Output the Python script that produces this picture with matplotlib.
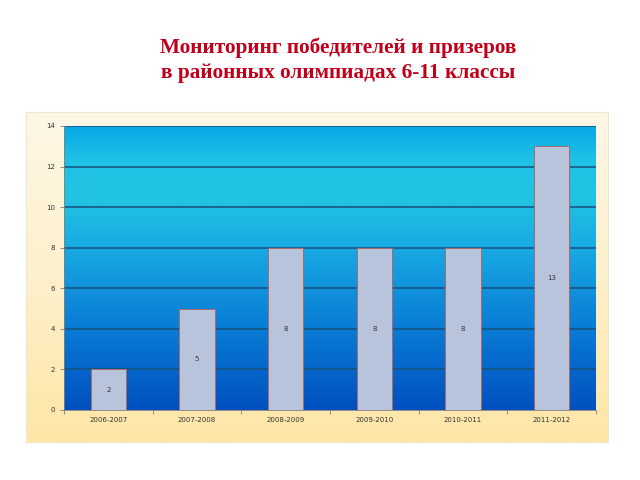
import numpy as np
import matplotlib.pyplot as plt
from matplotlib.colors import LinearSegmentedColormap

# data
years = ['2006-2007', '2007-2008', '2008-2009', '2009-2010', '2010-2011', '2011-2012']
winners = [2, 5, 8, 8, 8, 13]

title = 'Мониторинг победителей и призеров\nв районных олимпиадах 6-11 классы'

fig = plt.figure(figsize=(6.4, 4.8), dpi=100)
W, H = 640.0, 480.0

# outer chart area with cream -> light yellow gradient
bg = fig.add_axes([26/W, 1-442/H, 582/W, 330/H])
bg_cmap = LinearSegmentedColormap.from_list('bg', ['#fde6a6', '#fdf0cc', '#fdf7e6'])
bg.imshow(np.linspace(0, 1, 256).reshape(-1, 1), aspect='auto', cmap=bg_cmap,
          origin='lower', extent=[0, 1, 0, 1])
bg.set_xlim(0, 1); bg.set_ylim(0, 1)
for s in bg.spines.values():
    s.set_color('#efe6d2')
    s.set_linewidth(0.8)
bg.set_xticks([]); bg.set_yticks([])

ax = fig.add_axes([64/W, 1-410/H, 532/W, 284/H])
ax.set_zorder(2)

# blue gradient of the plot area
pa_cmap = LinearSegmentedColormap.from_list('pa', [
    (0.0, '#0050bf'), (0.3, '#0a7ed6'), (0.55, '#17a6e2'),
    (0.75, '#22c4e2'), (0.88, '#1fc2e4'), (1.0, '#08a8e8')])
x = np.arange(len(years))
ax.imshow(np.linspace(0, 1, 256).reshape(-1, 1), aspect='auto', cmap=pa_cmap,
          origin='lower', extent=[-0.5, len(years)-0.5, 0, 14], zorder=0)

for yv in range(2, 15, 2):
    ax.axhline(yv, color='#17507a', lw=1.1, zorder=1)

bars = ax.bar(x, winners, width=0.4, color='#b8c4dc', edgecolor='#a86a6a',
              linewidth=0.7, zorder=2)
for xi, v in zip(x, winners):
    ax.text(xi, v/2, str(v), ha='center', va='center', fontsize=5, color='#333333', zorder=3)

ax.set_xlim(-0.5, len(years)-0.5)
ax.set_ylim(0, 14)
ax.set_yticks(range(0, 15, 2))
ax.set_xticks(x)
ax.set_xticklabels(years)
ax.set_xticks(np.arange(-0.5, len(years), 1), minor=True)
ax.tick_params(axis='both', labelsize=5, colors='#808080', labelcolor='#333333', length=3, width=0.6)
ax.tick_params(axis='x', which='major', length=0, pad=5)
ax.tick_params(axis='x', which='minor', length=3, width=0.6, colors='#808080')
for s in ['top', 'right']:
    ax.spines[s].set_visible(False)
ax.spines['left'].set_color('#808080')
ax.spines['bottom'].set_color('#808080')
ax.spines['left'].set_linewidth(0.6)
ax.spines['bottom'].set_linewidth(0.6)

fig.text(338/W, 1-60/H, title, ha='center', va='center', fontsize=15.3,
         fontweight='bold', color='#c0001a', family='Liberation Serif', linespacing=1.32)

fig.savefig('out.png', dpi=100)
